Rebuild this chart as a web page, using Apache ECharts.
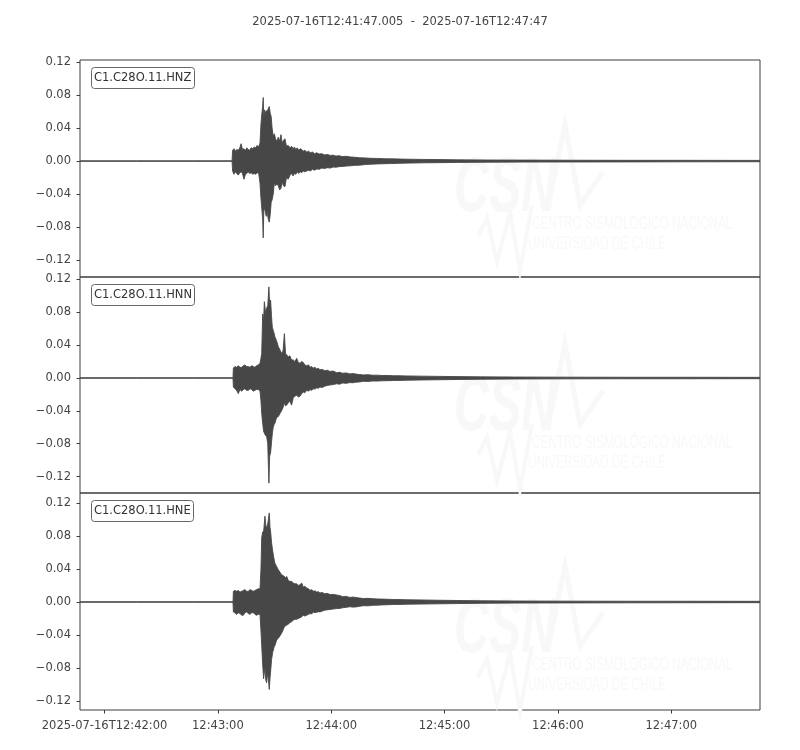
<!DOCTYPE html>
<html><head><meta charset="utf-8">
<script src="https://cdn.jsdelivr.net/npm/echarts@6/dist/echarts.min.js"></script>
<style>html,body{margin:0;padding:0;background:#fff}#c{width:800px;height:750px}</style>
</head><body><div id="c"></div>
<script>
// ---- data (time in seconds after 2025-07-16T12:41:47.005) ----
const titleText = '2025-07-16T12:41:47.005  -  2025-07-16T12:47:47';
const channels = ['C1.C28O.11.HNZ', 'C1.C28O.11.HNN', 'C1.C28O.11.HNE'];
const xTickValues = [12.995, 72.995, 132.995, 192.995, 252.995, 312.995];
const xTickLabels = ['2025-07-16T12:42:00', '12:43:00', '12:44:00', '12:45:00', '12:46:00', '12:47:00'];
const yTickValues = [-0.12, -0.08, -0.04, 0, 0.04, 0.08, 0.12];

const hnzTime = [
  0, 30, 60, 80.5, 80.8, 81.5, 82.2, 83.0, 83.8, 84.6,
  85.3, 86.0, 86.8, 87.6, 88.3, 89.0, 89.8, 90.6, 91.4, 92.2,
  93.0, 93.8, 94.6, 95.3, 95.8, 96.3, 96.7, 97.0, 97.3, 97.7,
  98.1, 98.6, 99.1, 99.6, 100.2, 100.7, 101.2, 101.7, 102.3, 102.9,
  103.5, 104.2, 105.0, 105.7, 106.4, 107.0, 107.7, 108.5, 109.3, 110.2,
  111.2, 112.0, 112.8, 113.5, 114.3, 115.0, 115.8, 116.6, 117.4, 118.2,
  119.0, 120.0, 121.0, 122.0, 123.0, 124.2, 125.4, 126.6, 128.0, 129.5,
  131.0, 132.5, 134.0, 135.5, 137.0, 139.0, 141.0, 143.0, 145.5, 148.0,
  151.0, 154.0, 157.0, 161.0, 165.0, 170.0, 175.0, 182.0, 190.0, 200.0,
  215.0, 235.0, 260.0, 290.0, 320.0, 360.0];
const hnzUpper = [
  0.0003, 0.0003, 0.0003, 0.0003, 0.013, 0.015, 0.012, 0.014, 0.013, 0.016,
  0.021, 0.014, 0.015, 0.013, 0.016, 0.014, 0.013, 0.016, 0.015, 0.017,
  0.016, 0.019, 0.017, 0.022, 0.045, 0.058, 0.066, 0.077, 0.052, 0.062,
  0.058, 0.061, 0.060, 0.063, 0.066, 0.058, 0.054, 0.040, 0.030, 0.033,
  0.027, 0.024, 0.029, 0.024, 0.032, 0.022, 0.025, 0.027, 0.018, 0.019,
  0.016, 0.018, 0.015, 0.017, 0.014, 0.016, 0.013, 0.015, 0.014, 0.012,
  0.013, 0.011, 0.012, 0.010, 0.011, 0.009, 0.010, 0.0085, 0.009, 0.0075,
  0.008, 0.0068, 0.0072, 0.006, 0.0065, 0.0055, 0.0058, 0.005, 0.0046, 0.004,
  0.0038, 0.0033, 0.0032, 0.0028, 0.0027, 0.0024, 0.0022, 0.002, 0.0018, 0.0015,
  0.0013, 0.0012, 0.001, 0.0009, 0.0009, 0.0008];
const hnzLower = [
  -0.0003, -0.0003, -0.0003, -0.0003, -0.012, -0.016, -0.013, -0.015, -0.017, -0.014,
  -0.013, -0.015, -0.022, -0.016, -0.015, -0.013, -0.015, -0.014, -0.016, -0.015,
  -0.016, -0.014, -0.015, -0.027, -0.045, -0.059, -0.070, -0.093, -0.060, -0.057,
  -0.062, -0.067, -0.060, -0.070, -0.074, -0.065, -0.050, -0.047, -0.040, -0.026,
  -0.030, -0.028, -0.030, -0.035, -0.033, -0.025, -0.030, -0.031, -0.020, -0.022,
  -0.017, -0.015, -0.018, -0.015, -0.016, -0.013, -0.015, -0.013, -0.014, -0.012,
  -0.013, -0.012, -0.011, -0.012, -0.010, -0.011, -0.0095, -0.010, -0.0085, -0.009,
  -0.008, -0.0085, -0.0072, -0.0075, -0.0068, -0.0065, -0.006, -0.0058, -0.0052, -0.005,
  -0.0042, -0.0038, -0.0035, -0.0032, -0.003, -0.0026, -0.0024, -0.0021, -0.0019, -0.0016,
  -0.0014, -0.0012, -0.0011, -0.001, -0.0009, -0.0008];

const hnnTime = [
  0, 30, 60, 81.0, 81.2, 82.0, 82.9, 83.8, 84.7, 85.6,
  86.5, 87.3, 88.2, 89.1, 90.0, 90.9, 91.8, 92.6, 93.5, 94.4,
  95.3, 95.8, 96.2, 96.7, 97.2, 97.6, 98.2, 98.8, 99.4, 100.0,
  100.4, 100.9, 101.4, 101.8, 102.3, 102.7, 103.2, 104.1, 105.0, 105.9,
  106.7, 107.5, 108.2, 108.8, 109.4, 110.3, 111.1, 112.0, 112.9, 113.8,
  114.7, 115.6, 116.5, 117.4, 118.2, 119.0, 120.0, 121.0, 121.8, 122.7,
  123.5, 124.4, 125.3, 126.2, 127.0, 128.3, 129.5, 130.9, 132.3, 134.0,
  135.9, 137.5, 139.0, 141.0, 142.9, 144.5, 146.0, 148.0, 150.0, 152.5,
  155.0, 157.5, 160.0, 163.0, 166.0, 169.5, 173.0, 180.0, 190.0, 200.0,
  212.0, 230.0, 260.0, 290.0, 320.0, 360.0];
const hnnUpper = [
  0.0003, 0.0003, 0.0003, 0.0003, 0.012, 0.014, 0.013, 0.015, 0.013, 0.013,
  0.015, 0.016, 0.014, 0.014, 0.013, 0.015, 0.014, 0.013, 0.015, 0.016,
  0.018, 0.024, 0.030, 0.078, 0.070, 0.093, 0.080, 0.085, 0.088, 0.111,
  0.090, 0.095, 0.075, 0.062, 0.058, 0.055, 0.050, 0.045, 0.038, 0.034,
  0.030, 0.033, 0.054, 0.030, 0.028, 0.026, 0.027, 0.022, 0.022, 0.020,
  0.024, 0.019, 0.018, 0.020, 0.019, 0.016, 0.015, 0.016, 0.013, 0.014,
  0.012, 0.013, 0.011, 0.012, 0.010, 0.0105, 0.009, 0.0095, 0.008, 0.0085,
  0.0065, 0.007, 0.0058, 0.0062, 0.005, 0.0055, 0.0048, 0.0042, 0.0038, 0.004,
  0.0034, 0.0035, 0.003, 0.0031, 0.0028, 0.0027, 0.0025, 0.0023, 0.002, 0.0017,
  0.0014, 0.0012, 0.001, 0.0009, 0.0009, 0.0008];
const hnnLower = [
  -0.0003, -0.0003, -0.0003, -0.0003, -0.011, -0.013, -0.015, -0.019, -0.014, -0.016,
  -0.014, -0.013, -0.015, -0.015, -0.013, -0.014, -0.016, -0.015, -0.014, -0.014,
  -0.016, -0.028, -0.043, -0.055, -0.065, -0.067, -0.070, -0.071, -0.080, -0.128,
  -0.095, -0.091, -0.078, -0.068, -0.060, -0.057, -0.055, -0.048, -0.047, -0.043,
  -0.040, -0.036, -0.030, -0.034, -0.033, -0.030, -0.028, -0.033, -0.024, -0.022,
  -0.021, -0.023, -0.022, -0.019, -0.017, -0.018, -0.015, -0.016, -0.014, -0.015,
  -0.013, -0.0135, -0.012, -0.0125, -0.011, -0.0115, -0.010, -0.009, -0.0085, -0.008,
  -0.007, -0.0075, -0.006, -0.0065, -0.0055, -0.0058, -0.005, -0.0048, -0.004, -0.0042,
  -0.0036, -0.0037, -0.0034, -0.0032, -0.003, -0.0029, -0.0027, -0.0024, -0.0021, -0.0018,
  -0.0015, -0.0012, -0.001, -0.0009, -0.0009, -0.0008];

const hneTime = [
  0, 30, 60, 81.0, 81.2, 82.0, 82.9, 83.8, 84.7, 85.6,
  86.5, 87.3, 88.2, 89.1, 90.0, 90.9, 91.8, 92.6, 93.5, 94.4,
  95.3, 95.8, 96.2, 96.7, 97.2, 97.9, 98.4, 98.8, 99.4, 100.2,
  100.6, 100.9, 101.4, 102.0, 102.5, 102.9, 103.2, 104.1, 105.0, 105.9,
  106.7, 107.5, 108.2, 108.8, 109.4, 110.3, 111.1, 112.0, 112.9, 113.8,
  114.7, 115.6, 116.5, 117.4, 118.2, 119.0, 120.0, 121.0, 121.8, 122.7,
  123.5, 124.4, 125.3, 126.2, 127.0, 128.3, 129.5, 130.9, 132.3, 134.0,
  135.9, 137.5, 139.0, 141.0, 142.9, 144.5, 146.0, 148.0, 150.0, 152.5,
  155.0, 157.5, 160.0, 163.0, 166.0, 169.5, 173.0, 180.0, 190.0, 200.0,
  212.0, 230.0, 260.0, 290.0, 320.0, 360.0];
const hneUpper = [
  0.0003, 0.0003, 0.0003, 0.0003, 0.013, 0.014, 0.013, 0.014, 0.012, 0.013,
  0.014, 0.015, 0.013, 0.013, 0.015, 0.014, 0.013, 0.014, 0.015, 0.016,
  0.016, 0.040, 0.078, 0.085, 0.085, 0.104, 0.092, 0.090, 0.095, 0.108,
  0.090, 0.086, 0.072, 0.062, 0.055, 0.050, 0.047, 0.043, 0.039, 0.036,
  0.033, 0.032, 0.031, 0.029, 0.031, 0.026, 0.025, 0.025, 0.023, 0.022,
  0.022, 0.020, 0.021, 0.023, 0.018, 0.019, 0.017, 0.016, 0.014, 0.015,
  0.013, 0.0135, 0.012, 0.0125, 0.011, 0.0115, 0.010, 0.0105, 0.009, 0.0092,
  0.0085, 0.0078, 0.0065, 0.0068, 0.0055, 0.006, 0.0055, 0.0048, 0.0042, 0.0044,
  0.004, 0.0037, 0.0035, 0.0033, 0.003, 0.0029, 0.0027, 0.0025, 0.0021, 0.0018,
  0.0015, 0.0012, 0.001, 0.0009, 0.0009, 0.0008];
const hneLower = [
  -0.0003, -0.0003, -0.0003, -0.0003, -0.012, -0.013, -0.015, -0.013, -0.014, -0.016,
  -0.016, -0.013, -0.012, -0.014, -0.015, -0.013, -0.013, -0.015, -0.016, -0.015,
  -0.015, -0.035, -0.053, -0.075, -0.093, -0.080, -0.095, -0.098, -0.085, -0.106,
  -0.092, -0.085, -0.070, -0.061, -0.057, -0.053, -0.053, -0.046, -0.044, -0.041,
  -0.038, -0.034, -0.030, -0.029, -0.028, -0.027, -0.025, -0.024, -0.022, -0.021,
  -0.021, -0.020, -0.019, -0.018, -0.016, -0.017, -0.016, -0.015, -0.014, -0.0145,
  -0.012, -0.013, -0.0125, -0.0118, -0.012, -0.011, -0.010, -0.0095, -0.009, -0.0085,
  -0.008, -0.0078, -0.007, -0.0065, -0.0057, -0.0062, -0.006, -0.0052, -0.0045, -0.0047,
  -0.004, -0.0038, -0.0035, -0.0033, -0.003, -0.0029, -0.0027, -0.0025, -0.0022, -0.0019,
  -0.0016, -0.0013, -0.0011, -0.001, -0.0009, -0.0008];

const yLimits = [[-0.1405, 0.1225], [-0.1400, 0.1230], [-0.1309, 0.1321]];
const xLimits = [0, 359.995];

// ---- layout / style ----
const FONT = '"DejaVu Sans", sans-serif';
const TXT = '#444';
const AX = '#3c3c3c';
const TRACE = '#474747';
const grids = [
  { left: 80, right: 40, top: 60, height: 217 },
  { left: 80, right: 40, top: 277, height: 216 },
  { left: 80, right: 40, top: 493, height: 217 }
];
const traces = [[hnzTime, hnzUpper, hnzLower], [hnnTime, hnnUpper, hnnLower], [hneTime, hneUpper, hneLower]];

function fmtY(v) {
  const s = Math.abs(v).toFixed(2);
  return (v < -1e-9 ? '\u2212' : '') + s;
}

const xAxes = grids.map((g, i) => ({
  type: 'value', gridIndex: i, min: xLimits[0], max: xLimits[1], position: 'bottom',
  axisLine: { show: false, onZero: false },
  splitLine: { show: false },
  axisTick: { show: i === 2, customValues: xTickValues, length: 3.5, lineStyle: { color: AX, width: 1 } },
  axisLabel: {
    show: i === 2, customValues: xTickValues, margin: 10,
    color: TXT, fontFamily: FONT, fontSize: 11.5,
    formatter: (v) => { const k = xTickValues.findIndex(x => Math.abs(x - v) < 1e-6); return k >= 0 ? xTickLabels[k] : ''; }
  }
}));
const yAxes = grids.map((g, i) => ({
  type: 'value', gridIndex: i, min: yLimits[i][0], max: yLimits[i][1],
  axisLine: { show: false, onZero: false },
  splitLine: { show: false },
  axisTick: { show: true, customValues: yTickValues, length: 3.5, lineStyle: { color: AX, width: 1 } },
  axisLabel: { customValues: yTickValues, margin: 9, color: TXT, fontFamily: FONT, fontSize: 11.5, formatter: fmtY }
}));

const series = traces.map((tr, i) => {
  const [T, U, L] = tr;
  return {
    type: 'custom', xAxisIndex: i, yAxisIndex: i, z: 3, silent: true, clip: true,
    data: T.map((t, k) => [t, U[k], L[k]]),
    encode: { x: 0, y: [1, 2] },
    renderItem: function (params, api) {
      if (params.dataIndex !== 0) return null;
      const pts = [];
      for (let k = 0; k < T.length; k++) pts.push(api.coord([T[k], U[k]]));
      for (let k = T.length - 1; k >= 0; k--) pts.push(api.coord([T[k], L[k]]));
      return { type: 'polygon', shape: { points: pts }, style: { fill: TRACE, stroke: TRACE, lineWidth: 0.9 } };
    }
  };
});

const titles = [{
  text: titleText, left: 'center', top: 11,
  textStyle: { color: TXT, fontFamily: FONT, fontSize: 11.5, fontWeight: 'normal' }
}].concat(channels.map((c, i) => ({
  text: c, left: 91, top: grids[i].top + 7,
  padding: [5, 3, 4, 3],
  borderColor: '#666', borderWidth: 1, borderRadius: 3, backgroundColor: '#fff',
  textStyle: { color: '#333', fontFamily: FONT, fontSize: 11.5, fontWeight: 'normal', lineHeight: 13 }
})));

// faint CSN watermark
const WM = '#f8f8f8';
const wmOffsets = [0, 219, 441];
const graphics = [];
wmOffsets.forEach(dy => {
  graphics.push({
    type: 'text', x: 454, y: 150 + dy, scaleX: 0.62, z: 0, silent: true,
    style: { text: 'CSN', font: 'italic bold 78px "Liberation Sans", sans-serif', fill: WM }
  });
  graphics.push({
    type: 'polyline', z: 0, silent: true,
    shape: { points: [[548, 207 + dy], [565, 125 + dy], [580, 205 + dy], [603, 172 + dy]] },
    style: { stroke: WM, lineWidth: 5, fill: null }
  });
  graphics.push({
    type: 'polyline', z: 0, silent: true,
    shape: { points: [[478, 236 + dy], [487, 218 + dy], [497, 262 + dy], [510, 212 + dy], [520, 270 + dy], [532, 205 + dy]] },
    style: { stroke: WM, lineWidth: 4, fill: null }
  });
  graphics.push({
    type: 'text', x: 532, y: 214 + dy, scaleX: 0.62, z: 0, silent: true,
    style: { text: 'CENTRO SISMOLÓGICO NACIONAL', font: '19px "Liberation Sans", sans-serif', fill: WM }
  });
  graphics.push({
    type: 'text', x: 528, y: 234 + dy, scaleX: 0.62, z: 0, silent: true,
    style: { text: 'UNIVERSIDAD DE CHILE', font: '19px "Liberation Sans", sans-serif', fill: WM }
  });
});

const chart = echarts.init(document.getElementById('c'), null, { renderer: 'canvas' });
chart.setOption({
  animation: false,
  backgroundColor: '#fff',
  title: titles,
  grid: grids.map(g => Object.assign({ show: true, borderColor: AX, borderWidth: 1, backgroundColor: 'transparent' }, g)),
  xAxis: xAxes,
  yAxis: yAxes,
  series: series,
  graphic: graphics
});
</script>
</body></html>
